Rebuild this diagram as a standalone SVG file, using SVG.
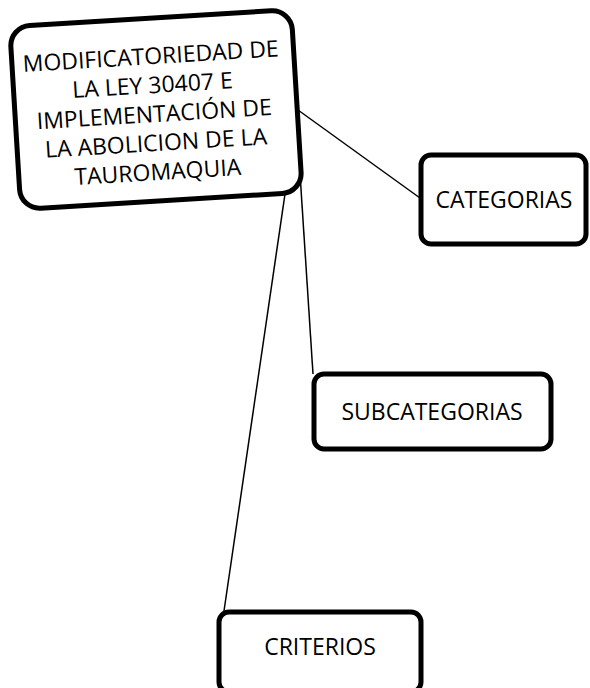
<svg xmlns="http://www.w3.org/2000/svg" width="590" height="688" viewBox="0 0 590 688">
<style>
.box{fill:#fff;stroke:#000;stroke-width:5}
.t{font-family:"Open Sans","Liberation Sans",sans-serif;font-size:23px;fill:#000;text-anchor:middle}
.c{stroke:#000;stroke-width:1.5;fill:none}
</style>
<g id="connectors">
<line class="c" x1="298" y1="110" x2="420" y2="198"/>
<line class="c" x1="296" y1="112" x2="313" y2="374"/>
<line class="c" x1="297" y1="112" x2="224" y2="611"/>
</g>
<g id="main" transform="rotate(-3.5 156 110)">
<rect class="box" x="15" y="18" width="282" height="183" rx="20"/>
<text class="t"><tspan x="154" y="64">MODIFICATORIEDAD DE</tspan><tspan x="154" y="93">LA LEY 30407 E</tspan><tspan x="154" y="122">IMPLEMENTACIÓN DE</tspan><tspan x="154" y="151">LA ABOLICION DE LA</tspan><tspan x="154" y="180">TAUROMAQUIA</tspan></text>
</g>
<g id="categorias">
<rect class="box" x="421" y="155" width="165" height="89" rx="10"/>
<text class="t" x="504" y="208">CATEGORIAS</text>
</g>
<g id="subcategorias">
<rect class="box" x="314" y="374" width="237" height="75" rx="10"/>
<text class="t" x="432" y="420">SUBCATEGORIAS</text>
</g>
<g id="criterios">
<rect class="box" x="219" y="612" width="202" height="80" rx="10"/>
<text class="t" x="320" y="655">CRITERIOS</text>
</g>
</svg>
